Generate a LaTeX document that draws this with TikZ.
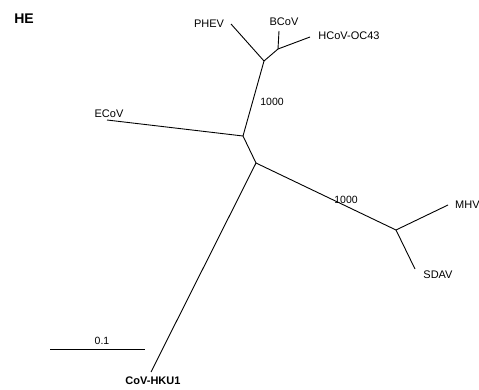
\documentclass[tikz,border=0pt]{standalone}
\usepackage{fontspec}
\setmainfont{Liberation Sans}
\begin{document}
\begin{tikzpicture}[x=1pt,y=-1pt,
  branch/.style={line width=0.9pt,black},
  lab/.style={font=\fontsize{11}{12}\selectfont,inner sep=0pt},
  boot/.style={font=\fontsize{10.5}{12}\selectfont,inner sep=0pt}]
\useasboundingbox (0,0) rectangle (479,390);
% internal nodes
\coordinate (A) at (264,61);
\coordinate (B) at (278,49);
\coordinate (C) at (243,136);
\coordinate (D) at (256,163);
\coordinate (E) at (396,230);
% tips
\coordinate (phev) at (231,24);
\coordinate (bcov) at (279,31);
\coordinate (oc43) at (310,37);
\coordinate (ecov) at (107,120);
\coordinate (mhv) at (448,205);
\coordinate (sdav) at (415,269);
\coordinate (hku1) at (151,372);
\coordinate (s1) at (50,349);
\coordinate (s2) at (145,349);
% branches
\draw[branch] (A) -- (phev);
\draw[branch] (A) -- (B);
\draw[branch] (B) -- (bcov);
\draw[branch] (B) -- (oc43);
\draw[branch] (A) -- (C);
\draw[branch] (C) -- (ecov);
\draw[branch] (C) -- (D);
\draw[branch] (D) -- (E);
\draw[branch] (E) -- (mhv);
\draw[branch] (E) -- (sdav);
\draw[branch] (D) -- (hku1);
\draw[branch] (s1) -- (s2);
% labels
\node[font=\fontsize{14}{16}\selectfont\bfseries,inner sep=0pt] (he) at (24,19) {HE};
\node[lab] (lphev) at (209,24) {PHEV};
\node[lab] (lbcov) at (284,22) {BCoV};
\node[lab] (loc43) at (349,36) {HCoV-OC43};
\node[lab] (lecov) at (109,114) {ECoV};
\node[lab,anchor=west] (lmhv) at (455,205) {MHV};
\node[lab] (lsdav) at (438,275) {SDAV};
\node[lab,font=\fontsize{11}{12}\selectfont\bfseries] (lhku1) at (153,381) {CoV-HKU1};
\node[boot] (b1) at (272,102) {1000};
\node[boot] (b2) at (346,200) {1000};
\node[boot] (scale) at (102,341) {0.1};
\end{tikzpicture}
\end{document}
